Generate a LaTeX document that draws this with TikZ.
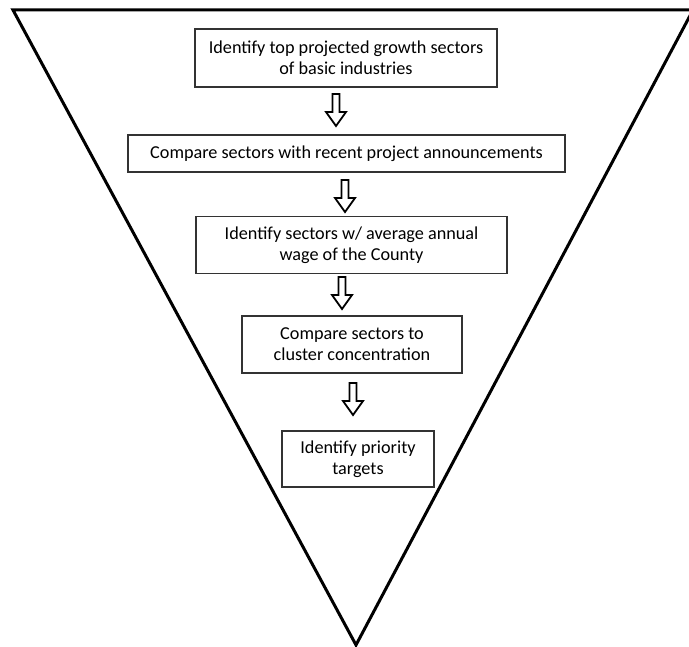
\documentclass[tikz,border=0pt]{standalone}
\usepackage{fontspec}
\setmainfont{Carlito}
\usepackage{tikz}
\tikzset{%
  stepbox/.style={draw=black!80,line width=1.1pt,align=center,inner sep=0,font=\fontsize{18.2}{21}\selectfont},
  funnel/.style={draw=black,line width=3pt,line join=miter},
  hollowarrow/.pic={\draw[line width=1.8pt,line join=miter] (-3.5,0) -- (3.5,0) -- (3.5,18) -- (10,18) -- (0,32) -- (-10,18) -- (-3.5,18) -- cycle;}
}

\begin{document}
\begin{tikzpicture}[x=1pt,y=-1pt]
    \useasboundingbox (0,0) rectangle (689,647);
    \fill[white] (0,0) rectangle (689,647);
    \draw[funnel] (13,10) -- (693,10) -- (356,645) -- cycle;
    \path
      (346,58) node[stepbox,minimum width=302,minimum height=58] (top) {Identify top projected growth sectors\\of basic industries}
      (346.5,153.5) node[stepbox,minimum width=437,minimum height=37] (news) {Compare sectors with recent project announcements}
      (351.5,245) node[stepbox,minimum width=311,minimum height=57] (wage) {Identify sectors w/ average annual\\wage of the County}
      (352,344.5) node[stepbox,minimum width=220,minimum height=57] (clus) {Compare sectors to\\cluster concentration}
      (358,459) node[stepbox,minimum width=152,minimum height=56] (prio) {Identify priority\\targets};
    \path (336,94) pic {hollowarrow} (345,180) pic {hollowarrow}
      (342,277) pic {hollowarrow} (353,383) pic {hollowarrow};
  \end{tikzpicture}
\end{document}
